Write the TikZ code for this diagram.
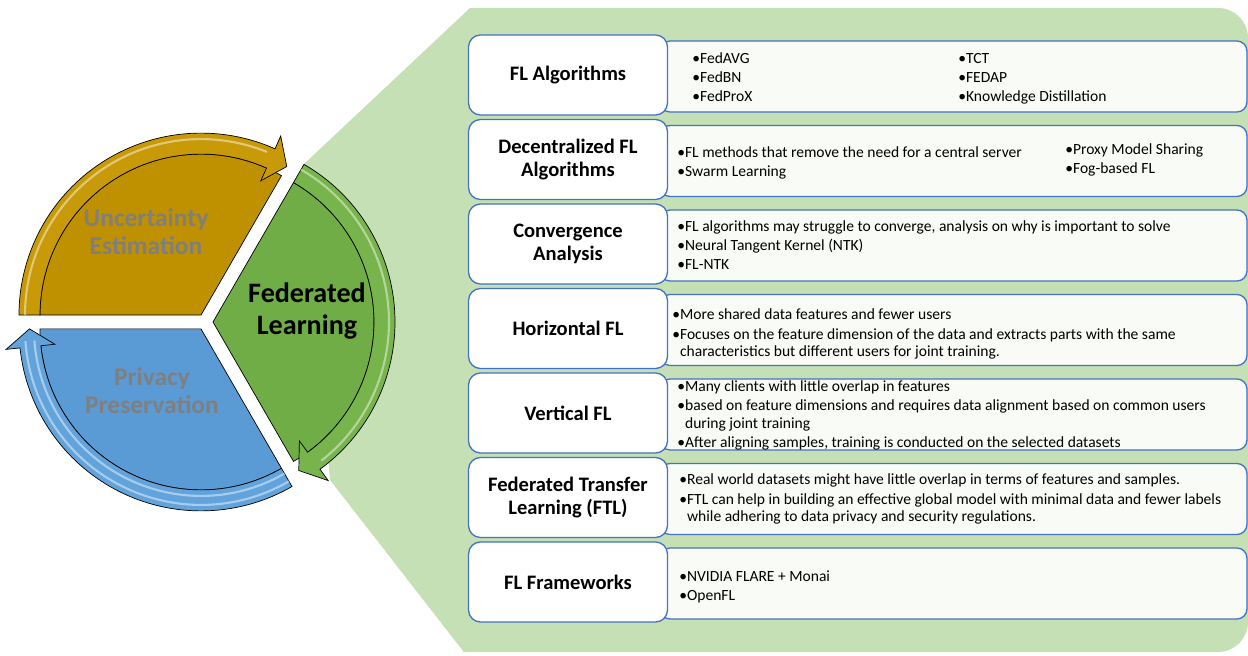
\documentclass[tikz,border=0pt]{standalone}
\usepackage{fontspec}
\setmainfont{Carlito}
\usepackage{tikz}
\usetikzlibrary{positioning}

\definecolor{panelgreen}{HTML}{C5E0B4}
\definecolor{boxblue}{HTML}{4472C4}
\definecolor{itemfill}{HTML}{F8FBF6}
\definecolor{goldfill}{HTML}{BF9000}
\definecolor{goldband}{HTML}{C99A08}
\definecolor{leaffill}{HTML}{70AD47}
\definecolor{leafband}{HTML}{77B44C}
\definecolor{skyfill}{HTML}{5B9BD5}
\definecolor{skyband}{HTML}{62A3DC}
\definecolor{softgray}{HTML}{7F7F7F}

\tikzset{
  titlebox/.style={draw=boxblue, line width=0.75pt, fill=white, rounded corners=0.24cm,
    minimum width=3.98cm, minimum height=1.6cm, align=center, inner sep=0pt,
    font=\bfseries\fontsize{11.7}{13}\selectfont},
  itembox/.style={draw=boxblue, line width=0.75pt, fill=itemfill, rounded corners=0.2cm,
    minimum width=11.74cm, minimum height=1.42cm, inner sep=0pt},
  itemtext/.style={anchor=base west, align=left, inner sep=0pt,
    font=\fontsize{8.85}{10.2}\selectfont},
  piecetext/.style={align=center, inner sep=0pt, font=\bfseries},
  outline/.style={draw=black, line width=0.4pt},
  gloss/.style={white, opacity=0.45, line width=1.2pt}
}

\begin{document}
\begin{tikzpicture}[x=0.02cm, y=0.02cm]
  \useasboundingbox (0,0) rectangle (1248,656);

  % green panel behind the rows
  \fill[panelgreen] (330,176) -- (304,492) -- (470,648) -- (1218,648)
    arc[start angle=90, end angle=0, radius=30] -- (1248,34)
    arc[start angle=0, end angle=-90, radius=30] -- (463.8,4) -- cycle;

  % cycle: uncertainty
  \begin{scope}[shift={(201,340.9)}]
    \fill[goldfill, outline] (0,0) -- (180:161) arc[start angle=180, end angle=60, radius=161] -- cycle;
    \fill[goldband, outline] (180:161) -- (180:182) arc[start angle=180, end angle=66, radius=182]
      -- (66:196) -- (60:171.5) -- (66:147) -- (66:161) arc[start angle=66, end angle=180, radius=161] -- cycle;
    \draw[gloss] (180:176) arc[start angle=180, end angle=68, radius=176];
  \end{scope}

  % cycle: federated learning
  \begin{scope}[shift={(213,334)}]
    \fill[leaffill, outline] (0,0) -- (60:161) arc[start angle=60, end angle=-60, radius=161] -- cycle;
    \fill[leafband, outline] (60:161) -- (60:182) arc[start angle=60, end angle=-54, radius=182]
      -- (-54:196) -- (-60:171.5) -- (-54:147) -- (-54:161) arc[start angle=-54, end angle=60, radius=161] -- cycle;
    \draw[gloss] (60:176) arc[start angle=60, end angle=-52, radius=176];
  \end{scope}

  % cycle: privacy
  \begin{scope}[shift={(201,327.1)}]
    \fill[skyfill, outline] (0,0) -- (-60:161) arc[start angle=-60, end angle=-180, radius=161] -- cycle;
    \fill[skyband, outline] (-60:161) -- (-60:182) arc[start angle=-60, end angle=-174, radius=182]
      -- (-174:196) -- (-180:171.5) -- (-174:147) -- (-174:161) arc[start angle=-174, end angle=-60, radius=161] -- cycle;
    \draw[gloss] (-60:176) arc[start angle=-60, end angle=-176, radius=176];
    \draw[gloss] (-60:167) arc[start angle=-60, end angle=-176, radius=167];
  \end{scope}

  \node[piecetext, text=softgray, font=\bfseries\fontsize{14.5}{16}\selectfont] (uncert) at (146,424) {Uncertainty\\Estimation};
  \node[piecetext, font=\bfseries\fontsize{16}{18}\selectfont] (fedlearn) at (307,345) {Federated\\Learning};
  \node[piecetext, text=softgray, font=\bfseries\fontsize{14.5}{16}\selectfont] (privacy) at (152,265) {Privacy\\Preservation};

  % rows (text nodes sit on the baseline of their last line)
  \node[itembox] (algitems) at (953.5,579.5) {};
  \node[titlebox] (alg) at (568,581) {FL Algorithms};
  \node[itemtext] (algleft) at (692,554) {•FedAVG\\[0.85pt]•FedBN\\[0.85pt]•FedProX};
  \node[itemtext] (algright) at (958,554) {•TCT\\[0.85pt]•FEDAP\\[0.85pt]•Knowledge Distillation};

  \node[itembox] (decitems) at (953.5,495) {};
  \node[titlebox] (dec) at (568,496.5) {Decentralized FL\\Algorithms};
  \node[itemtext] (decleft) at (677,479) {•FL methods that remove the need for a central server\\[0.85pt]•Swarm Learning};
  \node[itemtext] (decright) at (1065,482) {•Proxy Model Sharing\\[0.85pt]•Fog-based FL};

  \node[itembox] (convitems) at (953.5,410.5) {};
  \node[titlebox] (conv) at (568,412) {Convergence\\Analysis};
  \node[itemtext] (convtext) at (677,386) {•FL algorithms may struggle to converge, analysis on why is important to solve\\[0.85pt]•Neural Tangent Kernel (NTK)\\[0.85pt]•FL-NTK};

  \node[itembox] (horitems) at (953.5,326) {};
  \node[titlebox] (hor) at (568,327.5) {Horizontal FL};
  \node[itemtext] (hortext) at (672,299) {•More shared data features and fewer users\\[0.85pt]•Focuses on the feature dimension of the data and extracts parts with the same\\\phantom{•}characteristics but different users for joint training.};

  \node[itembox] (veritems) at (953.5,241.5) {};
  \node[titlebox] (ver) at (568,243) {Vertical FL};
  \node[itemtext] (vertext) at (677,208) {•Many clients with little overlap in features\\[0.85pt]•based on feature dimensions and requires data alignment based on common users\\\phantom{•}during joint training\\[0.85pt]•After aligning samples, training is conducted on the selected datasets};

  \node[itembox] (ftlitems) at (953.5,157) {};
  \node[titlebox] (ftl) at (568,158.5) {Federated Transfer\\Learning (FTL)};
  \node[itemtext] (ftltext) at (679,134) {•Real world datasets might have little overlap in terms of features and samples.\\[0.85pt]•FTL can help in building an effective global model with minimal data and fewer labels\\\phantom{•}while adhering to data privacy and security regulations.};

  \node[itembox] (fwitems) at (953.5,72.5) {};
  \node[titlebox] (fw) at (568,74) {FL Frameworks};
  \node[itemtext] (fwtext) at (679,55) {•NVIDIA FLARE + Monai\\[0.85pt]•OpenFL};
\end{tikzpicture}
\end{document}
